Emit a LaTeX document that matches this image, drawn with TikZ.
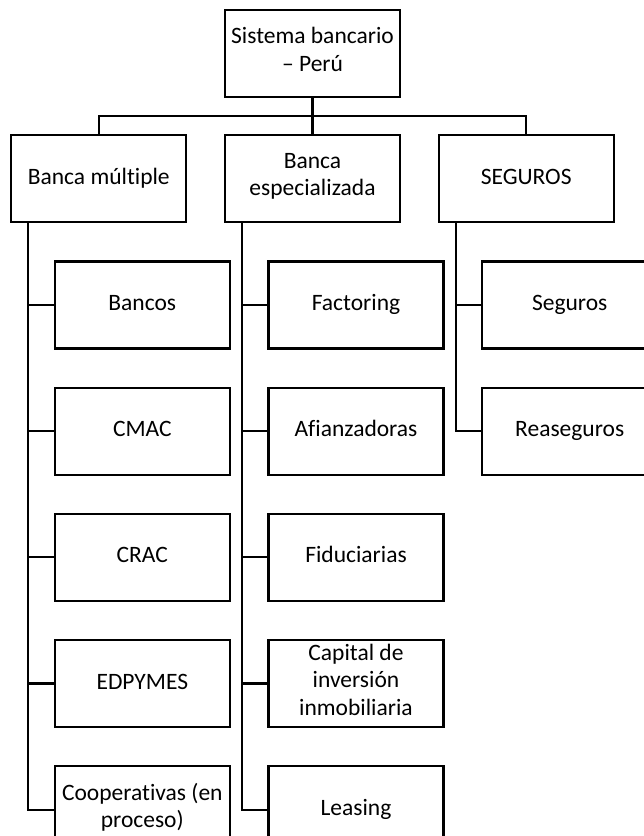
\documentclass[tikz,border=0pt]{standalone}
\usepackage{fontspec}
\setmainfont{Carlito}[Ligatures=CommonOff]
\usetikzlibrary{positioning}

\begin{document}
\begin{tikzpicture}[
			x=1pt, y=1pt,
			node distance=37pt and 36.5pt,
			caja/.style={rectangle, minimum width=175pt, minimum height=87pt, inner sep=0pt, align=center, draw=black, line width=2.2pt, font=\fontsize{23.5}{27.5}\selectfont, execute at begin node={\strut}, execute at end node={\strut}},
			linea/.style={line width=2.2pt}
			]
			\useasboundingbox (0,0) rectangle (644,-836);
			\clip (0,0) rectangle (644,-836);
			
			% Nodo raiz
			\node (sistema) [caja] at (312.5,-53.5) {Sistema bancario\\– Perú};
			
			% Primer nivel
			\node (especializada) [caja, below=36pt of sistema] {Banca\\especializada};
			\node (multiple) [caja, left=of especializada] {Banca múltiple};
			\node (seguros) [caja, right=of especializada] {SEGUROS};
			
			% Banca multiple
			\node (bancos) [caja, below=of multiple, xshift=43.5pt] {Bancos};
			\node (cmac) [caja, below=of bancos] {CMAC};
			\node (crac) [caja, below=of cmac] {CRAC};
			\node (edpymes) [caja, below=of crac] {EDPYMES};
			\node (cooperativas) [caja, below=of edpymes] {Cooperativas (en\\proceso)};
			
			% Banca especializada
			\node (factoring) [caja, below=of especializada, xshift=43.5pt] {Factoring};
			\node (afianzadoras) [caja, below=of factoring] {Afianzadoras};
			\node (fiduciarias) [caja, below=of afianzadoras] {Fiduciarias};
			\node (capital) [caja, below=of fiduciarias] {Capital de\\inversión\\inmobiliaria};
			\node (leasing) [caja, below=of capital] {Leasing};
			
			% Seguros
			\node (segurosh) [caja, below=of seguros, xshift=43.5pt] {Seguros};
			\node (reaseguros) [caja, below=of segurosh] {Reaseguros};
			
			% Conexiones
			\draw [linea] (sistema.south) -- (especializada.north);
			\draw [linea] (sistema.south) ++(0,-18) -| (multiple.north);
			\draw [linea] (sistema.south) ++(0,-18) -| (seguros.north);
			
			\foreach \hijo in {bancos, cmac, crac, edpymes, cooperativas}
				\draw [linea] ([xshift=18pt]multiple.south west) |- (\hijo.west);
			\foreach \hijo in {factoring, afianzadoras, fiduciarias, capital, leasing}
				\draw [linea] ([xshift=18pt]especializada.south west) |- (\hijo.west);
			\foreach \hijo in {segurosh, reaseguros}
				\draw [linea] ([xshift=18pt]seguros.south west) |- (\hijo.west);
			
		\end{tikzpicture}
\end{document}
